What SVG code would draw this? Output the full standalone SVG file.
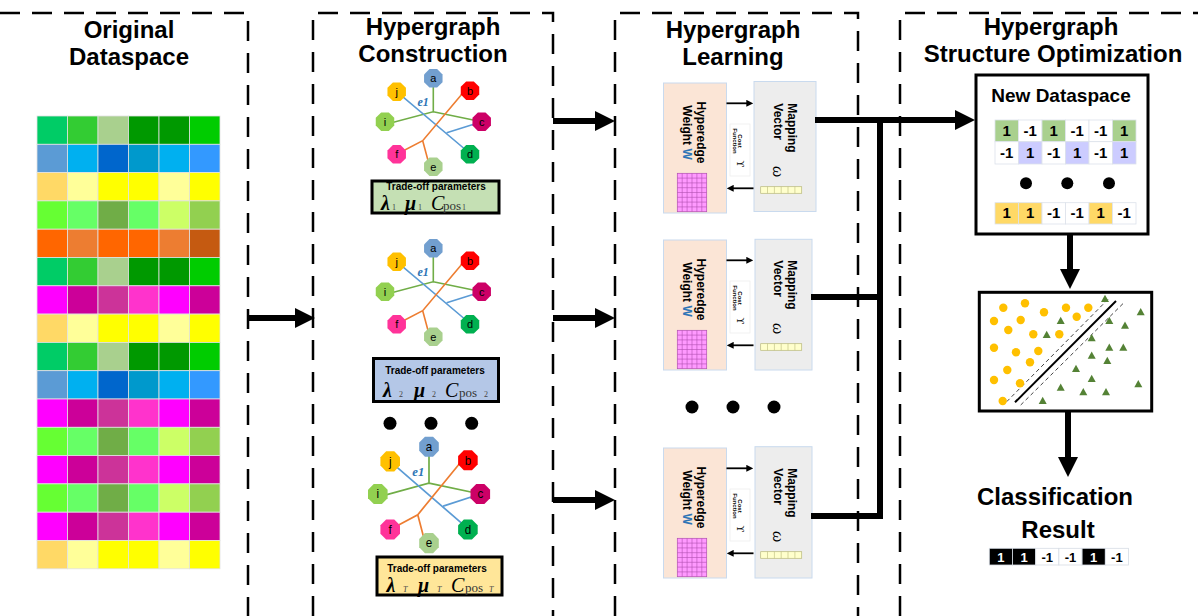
<svg xmlns="http://www.w3.org/2000/svg" xmlns:xlink="http://www.w3.org/1999/xlink" width="1198" height="616" viewBox="0 0 1198 616">
<style>
.title{font-family:"Liberation Sans",Arial,sans-serif;font-weight:bold;font-size:24px;fill:#000;text-anchor:middle}
.panel{fill:none;stroke:#000;stroke-width:2.5;stroke-dasharray:20 12}
.cell{stroke:#E2E2E2;stroke-width:0.8}
.hv{font-family:"Liberation Sans",Arial,sans-serif;font-size:11px;fill:#000;text-anchor:middle}
.e1{font-family:"Liberation Serif",serif;font-style:italic;font-weight:bold;font-size:12px;fill:#2E75B6}
.eg{fill:none;stroke:#70AD47;stroke-width:1.6}
.eb{fill:none;stroke:#5B9BD5;stroke-width:1.6}
.eo{fill:none;stroke:#ED7D31;stroke-width:1.6}
.tob{stroke:#000;stroke-width:3}
.tot{font-family:"Liberation Sans",Arial,sans-serif;font-weight:bold;font-size:10px;text-anchor:middle}
.gk{font-family:"Liberation Serif","Times New Roman",serif;font-style:italic;font-weight:bold;font-size:20px}
.gc{font-family:"Liberation Serif","Times New Roman",serif;font-style:italic;font-size:20px}
.sub{font-family:"Liberation Serif",serif;font-size:8px;fill:#444}
.subi{font-family:"Liberation Serif",serif;font-style:italic;font-size:8px;fill:#444}
.pos{font-family:"Liberation Serif",serif;font-size:13px;fill:#333}
.big{fill:none;stroke:#000;stroke-width:6}
.sm{fill:none;stroke:#000;stroke-width:1.8}
.rt{font-family:"Liberation Sans",Arial,sans-serif;font-weight:bold;font-size:12px}
.ct{font-family:"Liberation Sans",Arial,sans-serif;font-weight:bold;font-size:6px;text-anchor:middle}
.ups{font-family:"DejaVu Serif",serif;font-size:10px;text-anchor:middle}
.om{font-family:"Liberation Serif",serif;font-style:italic;font-size:16px}
.num{font-family:"Liberation Sans",Arial,sans-serif;font-weight:bold;font-size:15px;text-anchor:middle}
.rn{font-family:"Liberation Sans",Arial,sans-serif;font-weight:bold;font-size:13px;text-anchor:middle}
.nc{stroke:#DCE2EA;stroke-width:0.8}
.pt{fill:#FFC000}
.tr{fill:#548235}
.box{fill:#fff;stroke:#000;stroke-width:3}
.wbox{fill:#FBE5D6;stroke:#C9DAEE;stroke-width:1}
.mbox{fill:#EDEDED;stroke:#C9DAEE;stroke-width:1}
</style>
<defs>
<marker id="ba" viewBox="0 0 20 20" refX="2" refY="10" markerWidth="20" markerHeight="20" markerUnits="userSpaceOnUse" orient="auto"><path d="M0,0 L20,10 L0,20 z" fill="#000"/></marker>
<marker id="sa" viewBox="0 0 10 10" refX="1" refY="5" markerWidth="7" markerHeight="7" markerUnits="userSpaceOnUse" orient="auto"><path d="M0,0 L10,5 L0,10 z" fill="#000"/></marker>
<polygon id="oct" points="3.83,-9.24 9.24,-3.83 9.24,3.83 3.83,9.24 -3.83,9.24 -9.24,3.83 -9.24,-3.83 -3.83,-9.24"/>
<polygon id="tri" points="0,-4.2 4,3 -4,3"/>
<g id="rowG" class="cell"><rect x="37" width="30.5" height="28.3" fill="#00CC66"/><rect x="67.5" width="30.5" height="28.3" fill="#33CC33"/><rect x="98" width="30.5" height="28.3" fill="#A9D08E"/><rect x="128.5" width="30.5" height="28.3" fill="#009900"/><rect x="159" width="30.5" height="28.3" fill="#009900"/><rect x="189.5" width="30.5" height="28.3" fill="#00CC00"/></g>
<g id="rowB" class="cell"><rect x="37" width="30.5" height="28.3" fill="#5B9BD5"/><rect x="67.5" width="30.5" height="28.3" fill="#00B0F0"/><rect x="98" width="30.5" height="28.3" fill="#0066CC"/><rect x="128.5" width="30.5" height="28.3" fill="#0099CC"/><rect x="159" width="30.5" height="28.3" fill="#00B0F0"/><rect x="189.5" width="30.5" height="28.3" fill="#3399FF"/></g>
<g id="rowY" class="cell"><rect x="37" width="30.5" height="28.3" fill="#FFD966"/><rect x="67.5" width="30.5" height="28.3" fill="#FFFF99"/><rect x="98" width="30.5" height="28.3" fill="#FFFF00"/><rect x="128.5" width="30.5" height="28.3" fill="#FFFF00"/><rect x="159" width="30.5" height="28.3" fill="#FFFF99"/><rect x="189.5" width="30.5" height="28.3" fill="#FFFF00"/></g>
<g id="rowL" class="cell"><rect x="37" width="30.5" height="28.3" fill="#66FF33"/><rect x="67.5" width="30.5" height="28.3" fill="#66FF66"/><rect x="98" width="30.5" height="28.3" fill="#70AD47"/><rect x="128.5" width="30.5" height="28.3" fill="#66FF66"/><rect x="159" width="30.5" height="28.3" fill="#CCFF66"/><rect x="189.5" width="30.5" height="28.3" fill="#92D050"/></g>
<g id="rowO" class="cell"><rect x="37" width="30.5" height="28.3" fill="#FF6600"/><rect x="67.5" width="30.5" height="28.3" fill="#ED7D31"/><rect x="98" width="30.5" height="28.3" fill="#FF6600"/><rect x="128.5" width="30.5" height="28.3" fill="#FF6600"/><rect x="159" width="30.5" height="28.3" fill="#ED7D31"/><rect x="189.5" width="30.5" height="28.3" fill="#C55A11"/></g>
<g id="rowM" class="cell"><rect x="37" width="30.5" height="28.3" fill="#FF00FF"/><rect x="67.5" width="30.5" height="28.3" fill="#CC0099"/><rect x="98" width="30.5" height="28.3" fill="#CC3399"/><rect x="128.5" width="30.5" height="28.3" fill="#FF33CC"/><rect x="159" width="30.5" height="28.3" fill="#FF00FF"/><rect x="189.5" width="30.5" height="28.3" fill="#CC0099"/></g>
<g id="hg">
<path class="eg" d="M433.3,78.3 V111.7 L385,124.5 M433.3,111.7 L481.7,121.7"/>
<path class="eb" d="M396.7,91.7 L470,153.5 M481.7,121.7 L446.7,132.8"/>
<path class="eo" d="M462,94 L422.7,140.7 L396.7,154.3 M422.7,140.7 L429.5,166"/>
<use xlink:href="#oct" x="433.3" y="78.3" fill="#729FCF"/>
<use xlink:href="#oct" x="470" y="90.7" fill="#FF0000"/>
<use xlink:href="#oct" x="396.7" y="91.7" fill="#FFC000"/>
<use xlink:href="#oct" x="385" y="121.7" fill="#92D050"/>
<use xlink:href="#oct" x="481.7" y="121.7" fill="#CC0066"/>
<use xlink:href="#oct" x="396.7" y="154.3" fill="#FF3399"/>
<use xlink:href="#oct" x="470" y="154.3" fill="#00B050"/>
<use xlink:href="#oct" x="433.3" y="166.7" fill="#A9D08E"/>
<text class="hv" x="433.3" y="82.3">a</text>
<text class="hv" x="470" y="94.7">b</text>
<text class="hv" x="396.7" y="95.7">j</text>
<text class="hv" x="385" y="125.7">i</text>
<text class="hv" x="481.7" y="125.7">c</text>
<text class="hv" x="396.7" y="158.3">f</text>
<text class="hv" x="470" y="158.3">d</text>
<text class="hv" x="433.3" y="170.7">e</text>
<text class="e1" x="417.5" y="105.5">e1</text>
</g>
<g id="learn">
<path class="sm" d="M726.5,103.3 H747" marker-end="url(#sa)"/>
<path class="sm" d="M753.5,188.3 H733" marker-end="url(#sa)"/>
<rect x="730" y="124" width="20" height="52" fill="#fff" stroke="#EEEEEE" stroke-width="0.8"/>
<text class="ct" transform="translate(737.6,141) rotate(90)">Cost</text>
<text class="ct" transform="translate(732.6,141) rotate(90)">Function</text>
<text class="ups" transform="translate(737,164) rotate(90)">ϒ</text>
<text class="rt" text-anchor="middle" transform="translate(697.3,132.5) rotate(90)">Hyperedge</text>
<text class="rt" text-anchor="middle" transform="translate(682.7,132.5) rotate(90)">Weight <tspan fill="#2E75B6">W</tspan></text>
<text class="rt" transform="translate(788.3,103.3) rotate(90)">Mapping</text>
<text class="rt" transform="translate(774,103.3) rotate(90)">Vector</text>
<text class="om" transform="translate(772.5,166) rotate(90)">ω</text>
<rect x="677.3" y="173.3" width="29.4" height="38.4" fill="#FF99FF" stroke="#B050B0" stroke-width="0.7"/>
<path d="M682.2,173.3 V211.7 M687.1,173.3 V211.7 M692,173.3 V211.7 M696.9,173.3 V211.7 M701.8,173.3 V211.7 M677.3,178.1 H706.7 M677.3,182.9 H706.7 M677.3,187.7 H706.7 M677.3,192.5 H706.7 M677.3,197.3 H706.7 M677.3,202.1 H706.7 M677.3,206.9 H706.7" stroke="#B050B0" stroke-width="0.6" fill="none"/>
<rect x="760.7" y="186.7" width="41" height="6.6" fill="#FFFFCC" stroke="#B8B87A" stroke-width="0.7"/>
<path d="M767.5,186.7 V193.3 M774.4,186.7 V193.3 M781.2,186.7 V193.3 M788,186.7 V193.3 M794.9,186.7 V193.3" stroke="#B8B87A" stroke-width="0.6"/>
</g>
</defs>

<g id="panels">
<path class="panel" d="M0,13 H248 V616"/>
<path class="panel" d="M313,616 V13 H553 V616"/>
<path class="panel" d="M615,616 V13 H858 V616"/>
<path class="panel" d="M900,616 V13 H1198"/>
</g>

<g id="titles">
<text class="title" x="129" y="38">Original</text>
<text class="title" x="129" y="65">Dataspace</text>
<text class="title" x="433" y="35">Hypergraph</text>
<text class="title" x="433" y="62">Construction</text>
<text class="title" x="733" y="38">Hypergraph</text>
<text class="title" x="733" y="65">Learning</text>
<text class="title" x="1051" y="35">Hypergraph</text>
<text class="title" x="1053" y="62">Structure Optimization</text>
</g>

<g id="original-dataspace">
<use xlink:href="#rowG" y="116"/>
<use xlink:href="#rowB" y="144.3"/>
<use xlink:href="#rowY" y="172.6"/>
<use xlink:href="#rowL" y="200.9"/>
<use xlink:href="#rowO" y="229.2"/>
<use xlink:href="#rowG" y="257.5"/>
<use xlink:href="#rowM" y="285.8"/>
<use xlink:href="#rowY" y="314.1"/>
<use xlink:href="#rowG" y="342.4"/>
<use xlink:href="#rowB" y="370.7"/>
<use xlink:href="#rowM" y="399"/>
<use xlink:href="#rowL" y="427.3"/>
<use xlink:href="#rowM" y="455.6"/>
<use xlink:href="#rowL" y="483.9"/>
<use xlink:href="#rowM" y="512.2"/>
<use xlink:href="#rowY" y="540.5"/>
</g>

<g id="hypergraph-1"><use xlink:href="#hg"/></g>
<g id="tradeoff-1">
<rect class="tob" x="372" y="181" width="127" height="32" fill="#C5E0B4"/>
<text class="tot" x="436" y="190" font-size="9.5">Trade-off parameters</text>
<text class="gk" x="381" y="209.5" font-size="14">λ</text><text class="sub" x="392" y="209.5" font-size="7">1</text>
<text class="gk" x="405" y="209.5" font-size="14">μ</text><text class="sub" x="418" y="209.5" font-size="7">1</text>
<text class="gc" x="431" y="209.5" font-size="14">C</text><text class="pos" x="443" y="209.5" font-size="10">pos</text><text class="sub" x="462" y="209.5" font-size="7">1</text>
</g>

<g id="hypergraph-2"><use xlink:href="#hg" y="170"/></g>
<g id="tradeoff-2">
<rect class="tob" x="373.5" y="358.5" width="125" height="43" fill="#B4C7E7"/>
<text class="tot" x="435" y="374">Trade-off parameters</text>
<text class="gk" x="383" y="397">λ</text><text class="sub" x="399" y="397">2</text>
<text class="gk" x="414" y="397">μ</text><text class="sub" x="432" y="397">2</text>
<text class="gc" x="445" y="397">C</text><text class="pos" x="459" y="397">pos</text><text class="sub" x="484" y="397">2</text>
</g>

<g id="dots-construction">
<circle cx="390" cy="423.3" r="6.5"/><circle cx="431" cy="423.3" r="6.5"/><circle cx="471.7" cy="423.3" r="6.5"/>
</g>

<g id="hypergraph-T"><use xlink:href="#hg" transform="translate(429,446.7) scale(1.06,1.09) translate(-433.3,-78.3)"/></g>
<g id="tradeoff-T">
<rect class="tob" x="377" y="557" width="125" height="38" fill="#FFE699"/>
<text class="tot" x="437" y="572.3">Trade-off parameters</text>
<text class="gk" x="386.5" y="591.5">λ</text><text class="subi" x="403" y="591.5">T</text>
<text class="gk" x="418" y="591.5">μ</text><text class="subi" x="437" y="591.5">T</text>
<text class="gc" x="451" y="591.5">C</text><text class="pos" x="465" y="591.5">pos</text><text class="subi" x="489" y="591.5">T</text>
</g>

<g id="learning-1">
<rect class="wbox" x="663.5" y="83" width="63" height="130"/>
<rect class="mbox" x="754" y="81.5" width="62" height="130"/>
<use xlink:href="#learn"/>
</g>
<g id="learning-2">
<rect class="wbox" x="663.5" y="240" width="63" height="130"/>
<rect class="mbox" x="755" y="239.3" width="57" height="130.7"/>
<use xlink:href="#learn" y="157"/>
</g>
<g id="dots-learning">
<circle cx="692" cy="407" r="6.5"/><circle cx="733" cy="407" r="6.5"/><circle cx="774" cy="407" r="6.5"/>
</g>
<g id="learning-T">
<rect class="wbox" x="663.5" y="448" width="63" height="130"/>
<rect class="mbox" x="755" y="446.7" width="57" height="131.3"/>
<use xlink:href="#learn" y="365"/>
</g>

<g id="new-dataspace">
<rect class="box" x="976" y="75" width="172" height="159"/>
<text x="1061" y="101.5" font-family="Liberation Sans, Arial, sans-serif" font-weight="bold" font-size="19" text-anchor="middle">New Dataspace</text>
<g class="nc">
<rect x="995" y="120" width="23.5" height="21.7" fill="#A9D08E"/><rect x="1018.5" y="120" width="23.5" height="21.7" fill="#fff"/><rect x="1042" y="120" width="23.5" height="21.7" fill="#A9D08E"/><rect x="1065.5" y="120" width="23.5" height="21.7" fill="#fff"/><rect x="1089" y="120" width="23.5" height="21.7" fill="#fff"/><rect x="1112.5" y="120" width="23.5" height="21.7" fill="#A9D08E"/>
<rect x="995" y="141.7" width="23.5" height="22.3" fill="#fff"/><rect x="1018.5" y="141.7" width="23.5" height="22.3" fill="#CCCCFF"/><rect x="1042" y="141.7" width="23.5" height="22.3" fill="#fff"/><rect x="1065.5" y="141.7" width="23.5" height="22.3" fill="#CCCCFF"/><rect x="1089" y="141.7" width="23.5" height="22.3" fill="#fff"/><rect x="1112.5" y="141.7" width="23.5" height="22.3" fill="#CCCCFF"/>
<rect x="995" y="202.7" width="23.5" height="21.3" fill="#FFD966"/><rect x="1018.5" y="202.7" width="23.5" height="21.3" fill="#FFD966"/><rect x="1042" y="202.7" width="23.5" height="21.3" fill="#fff"/><rect x="1065.5" y="202.7" width="23.5" height="21.3" fill="#fff"/><rect x="1089" y="202.7" width="23.5" height="21.3" fill="#FFD966"/><rect x="1112.5" y="202.7" width="23.5" height="21.3" fill="#fff"/>
</g>
<text class="num" x="1006.75" y="136">1</text><text class="num" x="1030.25" y="136">-1</text><text class="num" x="1053.75" y="136">1</text><text class="num" x="1077.25" y="136">-1</text><text class="num" x="1100.75" y="136">-1</text><text class="num" x="1124.25" y="136">1</text>
<text class="num" x="1006.75" y="158.3">-1</text><text class="num" x="1030.25" y="158.3">1</text><text class="num" x="1053.75" y="158.3">-1</text><text class="num" x="1077.25" y="158.3">1</text><text class="num" x="1100.75" y="158.3">-1</text><text class="num" x="1124.25" y="158.3">1</text>
<circle cx="1026" cy="183.3" r="6"/><circle cx="1067.3" cy="183.3" r="6"/><circle cx="1109" cy="183.3" r="6"/>
<text class="num" x="1006.75" y="218.3">1</text><text class="num" x="1030.25" y="218.3">1</text><text class="num" x="1053.75" y="218.3">-1</text><text class="num" x="1077.25" y="218.3">-1</text><text class="num" x="1100.75" y="218.3">1</text><text class="num" x="1124.25" y="218.3">-1</text>
</g>

<g id="classifier-plot">
<rect class="box" x="979.3" y="292.3" width="172.4" height="118.7"/>
<path d="M1006.7,401.7 L1108.3,299 M1020.7,405 L1123.3,303.3" stroke="#444" stroke-width="1" stroke-dasharray="4 3" fill="none"/>
<path d="M1015,402.3 L1116,301" stroke="#000" stroke-width="2" fill="none"/>
<circle class="pt" cx="1003.3" cy="307.7" r="4.2"/><circle class="pt" cx="1025" cy="303.3" r="4.2"/><circle class="pt" cx="1044" cy="312.3" r="4.2"/><circle class="pt" cx="1066" cy="307.7" r="4.2"/><circle class="pt" cx="1088.3" cy="307.7" r="4.2"/><circle class="pt" cx="994" cy="321" r="4.2"/><circle class="pt" cx="1020.7" cy="320" r="4.2"/><circle class="pt" cx="1076.7" cy="316.7" r="4.2"/><circle class="pt" cx="1008.3" cy="330" r="4.2"/><circle class="pt" cx="1033.3" cy="334.3" r="4.2"/><circle class="pt" cx="1059.3" cy="334.3" r="4.2"/><circle class="pt" cx="994" cy="347.7" r="4.2"/><circle class="pt" cx="1016" cy="352.3" r="4.2"/><circle class="pt" cx="1038.3" cy="351" r="4.2"/><circle class="pt" cx="1030" cy="362.3" r="4.2"/><circle class="pt" cx="1007.3" cy="370" r="4.2"/><circle class="pt" cx="994" cy="380" r="4.2"/><circle class="pt" cx="1020" cy="383.3" r="4.2"/><circle class="pt" cx="1002.7" cy="401" r="4.2"/>
<use xlink:href="#tri" class="tr" x="1105" y="299"/><use xlink:href="#tri" class="tr" x="1140.7" y="312.3"/><use xlink:href="#tri" class="tr" x="1060.7" y="321"/><use xlink:href="#tri" class="tr" x="1109.3" y="321"/><use xlink:href="#tri" class="tr" x="1125" y="325.7"/><use xlink:href="#tri" class="tr" x="1046.7" y="335"/><use xlink:href="#tri" class="tr" x="1091.7" y="338.3"/><use xlink:href="#tri" class="tr" x="1109.3" y="347.7"/><use xlink:href="#tri" class="tr" x="1123.3" y="347.7"/><use xlink:href="#tri" class="tr" x="1091.7" y="355.7"/><use xlink:href="#tri" class="tr" x="1107.3" y="361"/><use xlink:href="#tri" class="tr" x="1076" y="369"/><use xlink:href="#tri" class="tr" x="1091.7" y="379"/><use xlink:href="#tri" class="tr" x="1138.3" y="384.3"/><use xlink:href="#tri" class="tr" x="1060.7" y="387.7"/><use xlink:href="#tri" class="tr" x="1083.3" y="392.3"/><use xlink:href="#tri" class="tr" x="1106" y="392.3"/><use xlink:href="#tri" class="tr" x="1042.7" y="401"/>
</g>

<g id="classification-result">
<text class="title" x="1055" y="505">Classification</text>
<text class="title" x="1058" y="538">Result</text>
<g stroke="#D6DCE4" stroke-width="0.8">
<rect x="989.3" y="548.3" width="23.2" height="16.7" fill="#000"/><rect x="1012.5" y="548.3" width="23.2" height="16.7" fill="#000"/><rect x="1035.7" y="548.3" width="23.2" height="16.7" fill="#fff"/><rect x="1058.9" y="548.3" width="23.2" height="16.7" fill="#fff"/><rect x="1082.1" y="548.3" width="23.2" height="16.7" fill="#000"/><rect x="1105.3" y="548.3" width="23.2" height="16.7" fill="#fff"/>
</g>
<text class="rn" x="1000.9" y="561.5" fill="#fff">1</text><text class="rn" x="1024.1" y="561.5" fill="#fff">1</text><text class="rn" x="1047.3" y="561.5">-1</text><text class="rn" x="1070.5" y="561.5">-1</text><text class="rn" x="1093.7" y="561.5" fill="#fff">1</text><text class="rn" x="1116.9" y="561.5">-1</text>
</g>

<g id="connectors">
<path class="big" d="M248,318 H297" marker-end="url(#ba)"/>
<path class="big" d="M553,121 H597" marker-end="url(#ba)"/>
<path class="big" d="M553,318 H597" marker-end="url(#ba)"/>
<path class="big" d="M553,500 H597" marker-end="url(#ba)"/>
<path class="big" d="M815,120 H957" marker-end="url(#ba)"/>
<path class="big" d="M811,297 H880 M811,516 H880 M880,117 V519"/>
<path class="big" d="M1070,235 V271" marker-end="url(#ba)"/>
<path class="big" d="M1068,412 V459" marker-end="url(#ba)"/>
</g>
</svg>
